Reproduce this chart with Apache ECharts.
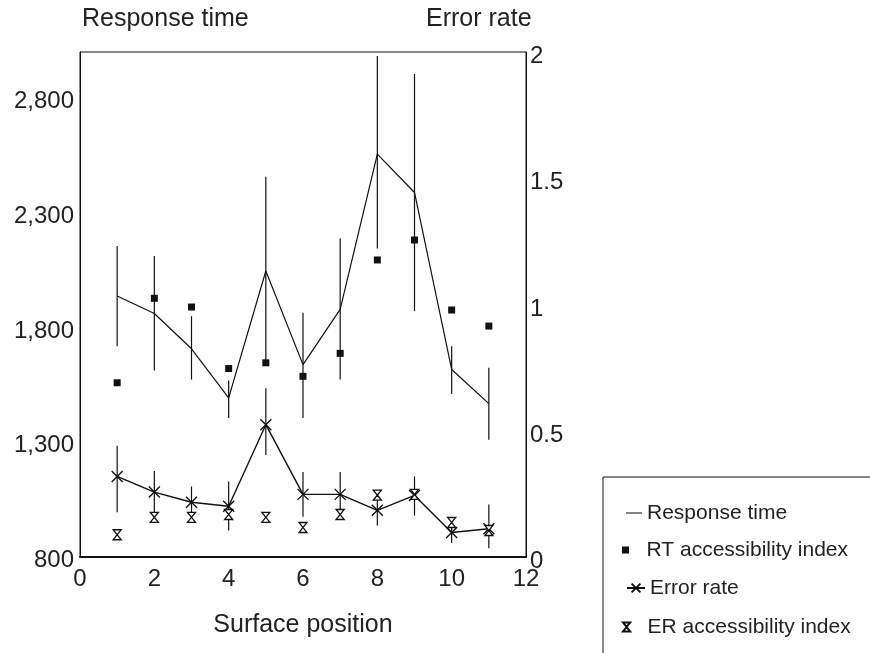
<!DOCTYPE html>
<html>
<head>
<meta charset="utf-8">
<script src="https://cdn.jsdelivr.net/npm/echarts@6/dist/echarts.min.js"></script>
<style>
  html, body { margin: 0; padding: 0; background: #fff; }
  #chart { width: 870px; height: 653px; }
</style>
</head>
<body>
<div id="chart"></div>
<script>
// surface positions 1..11
const positions = [1, 2, 3, 4, 5, 6, 7, 8, 9, 10, 11];

// response time (left axis)
const rtMean = [1937, 1861, 1707, 1493, 2046, 1638, 1879, 2555, 2388, 1617, 1468];
const rtLow = [1718, 1612, 1573, 1406, 1636, 1406, 1573, 2144, 1871, 1510, 1311];
const rtHigh = [2155, 2111, 1849, 1569, 2456, 1864, 2187, 2983, 2905, 1718, 1624];
const rtIndex = [1559, 1927, 1889, 1621, 1646, 1587, 1687, 2094, 2181, 1876, 1806];

// error rate (right axis)
const erMean = [0.319, 0.257, 0.217, 0.201, 0.524, 0.248, 0.248, 0.185, 0.244, 0.097, 0.112];
const erLow = [0.177, 0.141, 0.155, 0.105, 0.404, 0.159, 0.156, 0.125, 0.164, 0.055, 0.035];
const erHigh = [0.441, 0.341, 0.279, 0.299, 0.668, 0.337, 0.337, 0.261, 0.319, 0.151, 0.208];
const erIndex = [0.088, 0.157, 0.157, 0.168, 0.157, 0.117, 0.168, 0.245, 0.248, 0.137, 0.105];

const rtTicks = [800, 1300, 1800, 2300, 2800];

const FONT = 'Liberation Sans';
const INK = '#111';
const TXT = '#222';
const crossSym = 'path://M0,0L10,10M10,0L0,10';
const glassSym = 'path://M0,0H8L4,5L8,10H0L4,5Z';
const squareSym = 'path://M0,0H6V6H0Z';
const dashSym = 'path://M0,0H20V1.3H0Z';

function zip(a) {
  return positions.map((x, i) => [x, a[i]]);
}

function errBars(lo, hi) {
  return positions.map((x, i) => [x, lo[i], hi[i]]);
}

function renderBar(params, api) {
  const p1 = api.coord([api.value(0), api.value(1)]);
  const p2 = api.coord([api.value(0), api.value(2)]);
  return {
    type: 'line',
    shape: { x1: p1[0], y1: p1[1], x2: p2[0], y2: p2[1] },
    style: { stroke: INK, lineWidth: 1.2 }
  };
}

const chart = echarts.init(document.getElementById('chart'));

const legendBase = {
  orient: 'vertical',
  padding: 0,
  selectedMode: false,
  textStyle: { fontFamily: FONT, fontSize: 21, color: TXT, lineHeight: 22 }
};
const shiftedText = Object.assign({}, legendBase.textStyle, { padding: [0, 0, 0, 8] });

// tick text nudged a few px down, like the printed labels
const tickText = { fontFamily: FONT, fontSize: 24, color: TXT, padding: [7, 0, 0, 0] };

chart.setOption({
  backgroundColor: '#fff',
  animation: false,
  grid: {
    left: 80, right: 344, top: 52, bottom: 96,
    show: true, borderColor: INK, borderWidth: 1
  },
  graphic: [
    { type: 'text', left: 82, top: 7,
      style: { text: 'Response time', fontFamily: FONT, fontSize: 25, fill: TXT } },
    { type: 'text', left: 426, top: 7,
      style: { text: 'Error rate', fontFamily: FONT, fontSize: 25, fill: TXT } },
    { type: 'rect', shape: { x: 603, y: 477, width: 300, height: 200 },
      style: { fill: 'none', stroke: INK, lineWidth: 1 } }
  ],
  legend: [
    Object.assign({}, legendBase, { data: [{ name: 'Response time', icon: dashSym }], left: 626, top: 502, itemWidth: 16, itemHeight: 10 }),
    Object.assign({}, legendBase, { data: [{ name: 'RT accessibility index', icon: squareSym }], left: 622, top: 539, itemWidth: 16, itemHeight: 7, textStyle: shiftedText }),
    Object.assign({}, legendBase, { data: ['Error rate'], left: 626, top: 577, itemWidth: 18, itemHeight: 11 }),
    Object.assign({}, legendBase, { data: [{ name: 'ER accessibility index', icon: glassSym }], left: 622, top: 616, itemWidth: 16, itemHeight: 9, textStyle: shiftedText })
  ],
  xAxis: {
    type: 'value', min: 0, max: 12, interval: 2,
    name: 'Surface position', nameLocation: 'middle', nameGap: 56,
    nameTextStyle: { fontFamily: FONT, fontSize: 25, color: TXT },
    axisLine: { lineStyle: { color: INK, width: 2 } },
    axisTick: { show: false },
    splitLine: { show: false },
    axisLabel: { fontFamily: FONT, fontSize: 24, color: TXT, margin: 10 }
  },
  yAxis: [
    {
      type: 'value', min: 800, max: 3000,
      axisLine: { show: true, lineStyle: { color: INK, width: 1 } },
      axisTick: { show: false },
      splitLine: { show: false },
      axisLabel: {
        customValues: rtTicks,
        margin: 6,
        formatter: v => '{t|' + v.toLocaleString('en-US') + '}',
        rich: { t: tickText }
      }
    },
    {
      type: 'value', min: 0, max: 2, interval: 0.5, position: 'right',
      axisLine: { show: true, lineStyle: { color: INK, width: 1 } },
      axisTick: { show: false },
      splitLine: { show: false },
      axisLabel: {
        margin: 4,
        formatter: v => '{t|' + v + '}',
        rich: { t: Object.assign({}, tickText, { padding: [9, 0, 0, 0] }) }
      }
    }
  ],
  series: [
    {
      name: 'rt bars', type: 'custom', yAxisIndex: 0,
      renderItem: renderBar, data: errBars(rtLow, rtHigh),
      encode: { x: 0, y: [1, 2] }, z: 1, silent: true
    },
    {
      name: 'er bars', type: 'custom', yAxisIndex: 1,
      renderItem: renderBar, data: errBars(erLow, erHigh),
      encode: { x: 0, y: [1, 2] }, z: 1, silent: true
    },
    {
      name: 'Response time', type: 'line', yAxisIndex: 0,
      data: zip(rtMean), symbol: 'none', z: 2,
      lineStyle: { color: INK, width: 1.2 },
      itemStyle: { color: INK }
    },
    {
      name: 'RT accessibility index', type: 'scatter', yAxisIndex: 0,
      data: zip(rtIndex), symbol: 'rect', symbolSize: 7, z: 3,
      itemStyle: { color: INK, opacity: 1 }
    },
    {
      name: 'Error rate', type: 'line', yAxisIndex: 1,
      data: zip(erMean), symbol: crossSym, symbolSize: 11, showAllSymbol: true, z: 3,
      lineStyle: { color: INK, width: 1.4 },
      itemStyle: { color: 'rgba(0,0,0,0)', borderColor: INK, borderWidth: 1.4 }
    },
    {
      name: 'ER accessibility index', type: 'scatter', yAxisIndex: 1,
      data: zip(erIndex), symbol: glassSym, symbolSize: [8, 10], z: 4,
      itemStyle: { color: '#fff', borderColor: INK, borderWidth: 1.3, opacity: 1 }
    }
  ]
});
</script>
</body>
</html>
